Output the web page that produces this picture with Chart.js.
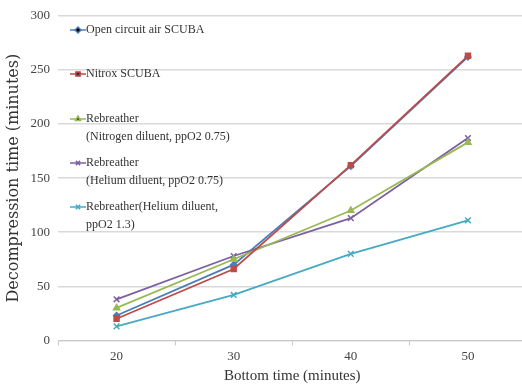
<!DOCTYPE html>
<html>
<head>
<meta charset="utf-8">
<script src="https://cdn.jsdelivr.net/npm/chart.js@4.4.0/dist/chart.umd.min.js"></script>
<style>
  html, body { margin: 0; padding: 0; background: #fff; overflow: hidden; }
  /* plot area runs off the right edge in the original */
  #wrap { width: 532px; height: 387px; position: relative; }
</style>
</head>
<body>
<div id="wrap"><canvas id="chart"></canvas></div>
<script>
// Bottom time (minutes)
const bottomTimes = ['20', '30', '40', '50'];

// Decompression time (minutes) per breathing system
const openCircuitAir = [23, 70, 161, 262];
const nitroxScuba = [20, 66, 162, 263];
const rebreatherN2 = [30, 75, 120, 183];
const rebreatherHe075 = [38, 78, 113, 187];
const rebreatherHe13 = [13, 42, 80, 111];

const yTicks = [0, 50, 100, 150, 200, 250, 300];

const seriesNames = [
    ['Open circuit air SCUBA'],
    ['Nitrox SCUBA'],
    ['Rebreather', '(Nitrogen diluent, ppO2 0.75)'],
    ['Rebreather', '(Helium diluent, ppO2 0.75)'],
    ['Rebreather(Helium diluent,', 'ppO2 1.3)']
];

const serif = "'Liberation Serif', 'DejaVu Serif', serif";

function makeSet(i, data, color, marker, size) {
    return {
        label: seriesNames[i].join(' '),
        data: data,
        borderColor: color,
        backgroundColor: color,
        borderWidth: 1.8,
        pointStyle: marker,
        pointRadius: size,
        pointBorderWidth: 1.5,
        tension: 0,
        order: i === 0 ? 1 : 0   // blue sits under the red line
    };
}

// Legend drawn inside the plot, top left, like the original
const insideLegend = {
    id: 'insideLegend',
    afterDraw(chart) {
        const ctx = chart.ctx;
        const rows = [30, 74, 119, 163, 207];
        ctx.save();
        ctx.font = "12px " + serif;
        ctx.textBaseline = 'middle';
        chart.data.datasets.forEach((ds, i) => {
            const y = rows[i];
            ctx.strokeStyle = ds.borderColor;
            ctx.lineWidth = 1.5;
            ctx.beginPath();
            ctx.moveTo(70, y);
            ctx.lineTo(86, y);
            ctx.stroke();
            Chart.helpers.drawPoint(ctx, {
                pointStyle: ds.pointStyle,
                radius: 3,
                borderWidth: 1.5
            }, 78, y);
            ctx.fillStyle = '#333';
            seriesNames[i].forEach((line, k) => {
                ctx.fillText(line, 86, y + k * 18);
            });
        });
        ctx.restore();
    }
};

new Chart(document.getElementById('chart'), {
    type: 'line',
    data: {
        labels: bottomTimes,
        datasets: [
            makeSet(0, openCircuitAir, '#4a7ebb', 'rectRot', 3),
            makeSet(1, nitroxScuba, '#be4b48', 'rect', 3.5),
            makeSet(2, rebreatherN2, '#98b954', 'triangle', 3.5),
            makeSet(3, rebreatherHe075, '#7d60a0', 'crossRot', 4),
            makeSet(4, rebreatherHe13, '#46aac5', 'crossRot', 4)
        ]
    },
    options: {
        responsive: true,
        maintainAspectRatio: false,
        animation: false,
        layout: { padding: { top: 8, right: 0, bottom: 2, left: 0 } },
        plugins: {
            legend: { display: false },
            tooltip: { enabled: false }
        },
        scales: {
            x: {
                offset: true,
                grid: {
                    offset: true,
                    drawOnChartArea: false,
                    drawTicks: true,
                    tickLength: 5,
                    color: '#c8c8c8'
                },
                border: { display: true, color: '#c8c8c8', width: 1 },
                ticks: { color: '#444', font: { family: serif, size: 13 }, padding: 3 },
                title: {
                    display: true,
                    text: 'Bottom time (minutes)',
                    color: '#333',
                    font: { family: serif, size: 15 },
                    padding: { top: 0, bottom: 0 }
                }
            },
            y: {
                min: 0,
                max: 300,
                afterBuildTicks(axis) {
                    axis.ticks = yTicks.map(v => ({ value: v }));
                },
                afterFit(axis) { axis.width = 58; },
                grid: { color: '#d9d9d9', lineWidth: 1.5, drawTicks: false },
                border: { display: false },
                ticks: { color: '#444', font: { family: serif, size: 13 }, padding: 8 },
                title: {
                    display: true,
                    text: 'Decompression time (minutes)',
                    color: '#333',
                    font: { family: "'DejaVu Serif', serif", size: 16 },
                    padding: { top: 4, bottom: 0 }
                }
            }
        }
    },
    plugins: [insideLegend]
});
</script>
</body>
</html>
